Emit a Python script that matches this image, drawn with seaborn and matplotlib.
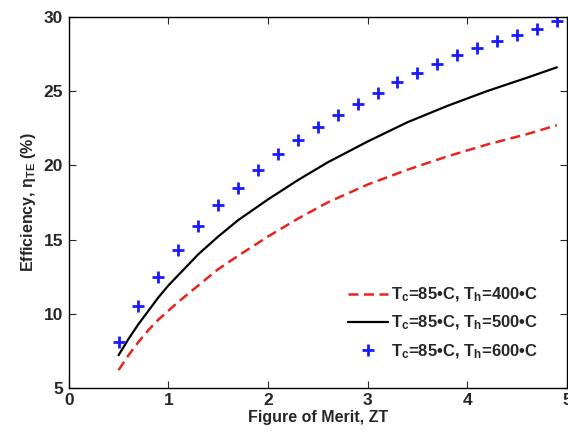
import numpy as np
import pandas as pd
import matplotlib
matplotlib.use("Agg")
import matplotlib.pyplot as plt
import seaborn as sns

# ---------------- DATA ----------------
zt_line = [0.5, 0.6, 0.7, 0.8, 0.9, 1.0, 1.1, 1.3, 1.5, 1.7, 2.0, 2.3, 2.6, 3.0, 3.4, 3.8, 4.2, 4.6, 4.9]
eff_400 = [6.2, 7.2, 8.1, 8.9, 9.6, 10.2, 10.8, 11.9, 13.0, 13.9, 15.2, 16.4, 17.5, 18.7, 19.7, 20.6, 21.4, 22.1, 22.7]
eff_500 = [7.2, 8.3, 9.3, 10.2, 11.1, 11.9, 12.6, 14.0, 15.2, 16.3, 17.7, 19.0, 20.2, 21.6, 22.9, 24.0, 25.0, 25.9, 26.6]

zt_pts = [0.5, 0.7, 0.9, 1.1, 1.3, 1.5, 1.7, 1.9, 2.1, 2.3, 2.5, 2.7,
          2.9, 3.1, 3.3, 3.5, 3.7, 3.9, 4.1, 4.3, 4.5, 4.7, 4.9]
eff_600 = [8.1, 10.5, 12.5, 14.3, 15.9, 17.3, 18.5, 19.7, 20.75, 21.7, 22.6, 23.4,
           24.1, 24.9, 25.6, 26.2, 26.8, 27.4, 27.9, 28.4, 28.8, 29.2, 29.7]

labels = ['T$_\\mathbf{c}$=85\u2022C, T$_\\mathbf{h}$=400\u2022C',
          'T$_\\mathbf{c}$=85\u2022C, T$_\\mathbf{h}$=500\u2022C',
          'T$_\\mathbf{c}$=85\u2022C, T$_\\mathbf{h}$=600\u2022C']

xticks = [0, 1, 2, 3, 4, 5]
yticks = [5, 10, 15, 20, 25, 30]

# ---------------- STYLE ----------------
sns.set_style("ticks")
plt.rcParams['font.family'] = ['Liberation Sans', 'DejaVu Sans']
plt.rcParams['font.weight'] = 'bold'
plt.rcParams['mathtext.fontset'] = 'custom'
plt.rcParams['mathtext.rm'] = 'Liberation Sans:bold'
plt.rcParams['mathtext.bf'] = 'Liberation Sans:bold'
plt.rcParams['mathtext.it'] = 'Liberation Sans:italic:bold'

fig = plt.figure(figsize=(5.68, 4.32), dpi=100)
ax = fig.add_axes([0.121, 0.102, 0.877, 0.859])

df400 = pd.DataFrame({'zt': zt_line, 'eff': eff_400})
df500 = pd.DataFrame({'zt': zt_line, 'eff': eff_500})
df600 = pd.DataFrame({'zt': zt_pts, 'eff': eff_600})

sns.lineplot(data=df400, x='zt', y='eff', ax=ax, color='#e8241e', lw=1.8,
             label=labels[0])
ax.lines[-1].set_dashes((4, 2.2))
sns.lineplot(data=df500, x='zt', y='eff', ax=ax, color='black', lw=1.6,
             label=labels[1])
ax.plot(df600['zt'], df600['eff'], linestyle='none', marker='+', ms=9, mew=2,
        color='#1a1aff', label=labels[2])

ax.set_xlim(0, 5)
ax.set_ylim(5, 30)
ax.set_xticks(xticks)
ax.set_yticks(yticks)
ax.tick_params(direction='in', length=5, width=0.8, top=True, right=True,
               labelsize=12.5, pad=4)
for lab in ax.get_xticklabels() + ax.get_yticklabels():
    lab.set_fontweight('bold')
for sp in ax.spines.values():
    sp.set_visible(True)
    sp.set_linewidth(1.0)
    sp.set_color('black')

ax.set_xlabel('Figure of Merit, ZT', fontsize=11.5, fontweight='bold', labelpad=1)
ax.set_ylabel('Efficiency, \u03b7$_\\mathbf{TE}$ (%)', fontsize=11.5, fontweight='bold', labelpad=4)

handles, _ = ax.get_legend_handles_labels()
handles[0].set_dashes((4, 2.2))
leg = ax.legend(handles, labels, loc='lower right', bbox_to_anchor=(0.955, 0.055),
                borderaxespad=0, frameon=False, fontsize=12, handlelength=2.4,
                handletextpad=0.15, labelspacing=0.6)
for t in leg.get_texts():
    t.set_fontweight('bold')

fig.savefig('out.png', dpi=100)
